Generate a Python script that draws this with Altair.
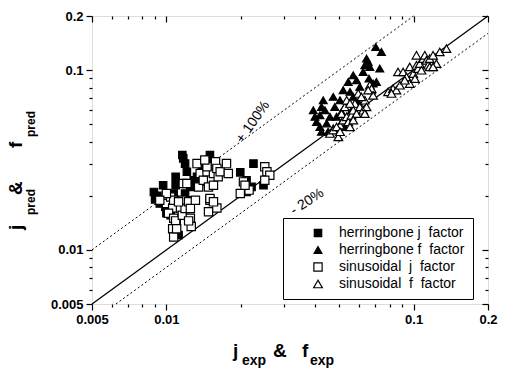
import altair as alt
import pandas as pd

# ---------------- data ----------------
hj_x = [0.0089, 0.0090, 0.0097, 0.0092, 0.0094, 0.0099, 0.0100, 0.0104, 0.0109, 0.0109,
        0.0110, 0.0112, 0.0117, 0.0119, 0.0121, 0.0119, 0.0121, 0.0125, 0.0129, 0.0133,
        0.0137, 0.0139, 0.0143, 0.0150, 0.0148, 0.0199, 0.0225, 0.0211, 0.0211, 0.0247,
        0.0221, 0.0107, 0.0102, 0.0116]
hj_y = [0.0210, 0.0191, 0.0229, 0.0200, 0.0181, 0.0174, 0.0160, 0.0156, 0.0255, 0.0229,
        0.0143, 0.0121, 0.0323, 0.0302, 0.0272, 0.0206, 0.0189, 0.0224, 0.0244, 0.0255,
        0.0239, 0.0290, 0.0302, 0.0337, 0.0316, 0.0270, 0.0302, 0.0210, 0.0244, 0.0229,
        0.0224, 0.0206, 0.0189, 0.0337]

hf_x = [0.0393, 0.0399, 0.0405, 0.0418, 0.0424, 0.0431, 0.0438, 0.0418, 0.0424, 0.0445,
        0.0459, 0.0473, 0.0480, 0.0488, 0.0504, 0.0511, 0.0519, 0.0536, 0.0544, 0.0553,
        0.0561, 0.0570, 0.0588, 0.0606, 0.0625, 0.0635, 0.0645, 0.0655, 0.0660, 0.0665,
        0.0676, 0.0686, 0.0703, 0.0730, 0.0741, 0.0707, 0.0473, 0.0451, 0.0527, 0.0570,
        0.0597]
hf_y = [0.0598, 0.0550, 0.0515, 0.0561, 0.0624, 0.0680, 0.0598, 0.0483, 0.0454, 0.0505,
        0.0550, 0.0710, 0.0624, 0.0550, 0.0680, 0.0586, 0.0773, 0.0652, 0.0860, 0.0757,
        0.0598, 0.0936, 0.0878, 0.0807, 0.0977, 0.1064, 0.1159, 0.1110, 0.0897, 0.1042,
        0.0773, 0.0842, 0.1345, 0.1020, 0.1262, 0.0860, 0.0474, 0.0454, 0.0483, 0.0710,
        0.0666]

sj_x = [0.0097, 0.0100, 0.0104, 0.0106, 0.0102, 0.0107, 0.0109, 0.0106, 0.0107, 0.0110,
        0.0114, 0.0116, 0.0116, 0.0119, 0.0123, 0.0125, 0.0125, 0.0126, 0.0131, 0.0133,
        0.0135, 0.0137, 0.0141, 0.0146, 0.0148, 0.0150, 0.0155, 0.0155, 0.0158, 0.0160,
        0.0162, 0.0165, 0.0178, 0.0175, 0.0148, 0.0160, 0.0150, 0.0155, 0.0123, 0.0107,
        0.0100, 0.0094, 0.0112, 0.0117, 0.0121, 0.0199, 0.0205, 0.0216, 0.0250, 0.0255,
        0.0262, 0.0250, 0.0208, 0.0146, 0.0143]
sj_y = [0.0189, 0.0181, 0.0197, 0.0171, 0.0160, 0.0150, 0.0145, 0.0131, 0.0118, 0.0131,
        0.0171, 0.0189, 0.0156, 0.0170, 0.0185, 0.0170, 0.0150, 0.0135, 0.0189, 0.0302,
        0.0224, 0.0266, 0.0244, 0.0272, 0.0224, 0.0189, 0.0229, 0.0266, 0.0309, 0.0284,
        0.0255, 0.0272, 0.0266, 0.0302, 0.0163, 0.0171, 0.0193, 0.0185, 0.0145, 0.0189,
        0.0206, 0.0189, 0.0185, 0.0234, 0.0234, 0.0206, 0.0239, 0.0215, 0.0290, 0.0272,
        0.0260, 0.0244, 0.0229, 0.0290, 0.0316]

sf_x = [0.0459, 0.0473, 0.0496, 0.0504, 0.0519, 0.0488, 0.0511, 0.0536, 0.0527, 0.0544,
        0.0553, 0.0561, 0.0570, 0.0579, 0.0588, 0.0606, 0.0625, 0.0635, 0.0645, 0.0536,
        0.0553, 0.0597, 0.0615, 0.0665, 0.0676, 0.0686, 0.0655, 0.0635, 0.0504, 0.0570,
        0.0789, 0.0826, 0.0852, 0.0880, 0.0865, 0.0907, 0.0936, 0.0965, 0.0997, 0.1027,
        0.1043, 0.1059, 0.1093, 0.1110, 0.1127, 0.1145, 0.1162, 0.1199, 0.1237, 0.1276,
        0.1358, 0.0965, 0.0921, 0.0814, 0.1013, 0.1076, 0.1162, 0.1027, 0.1199]
sf_y = [0.0444, 0.0464, 0.0425, 0.0494, 0.0527, 0.0483, 0.0573, 0.0550, 0.0624, 0.0515,
        0.0483, 0.0561, 0.0598, 0.0652, 0.0573, 0.0624, 0.0598, 0.0680, 0.0624, 0.0680,
        0.0652, 0.0741, 0.0710, 0.0824, 0.0789, 0.0724, 0.0773, 0.0573, 0.0454, 0.0527,
        0.0757, 0.0789, 0.0773, 0.0824, 0.0977, 0.0977, 0.0915, 0.1042, 0.0955, 0.1064,
        0.1020, 0.1087, 0.1159, 0.1209, 0.1133, 0.1064, 0.1159, 0.1209, 0.1087, 0.1262,
        0.1317, 0.0842, 0.0878, 0.0741, 0.0897, 0.0998, 0.1042, 0.1209, 0.1042]

series_names = ["herringbone j\u00a0 factor", "herringbone f\u00a0 factor",
                "sinusoidal\u00a0 j\u00a0 factor", "sinusoidal\u00a0 f\u00a0 factor"]
series_shapes = ["square", "triangle-up", "square", "triangle-up"]
series_fills = ["black", "black", "white", "white"]
series_strokes = ["black", "black", "black", "black"]
series_sizes = [55, 75, 55, 75]

# reference lines: y = x, y = 2x (+100%), y = 0.8x (-20%)
line_ids = ["diag", "diag", "p100", "p100", "m20", "m20"]
line_x = [0.005, 0.2, 0.005, 0.1, 0.00625, 0.2]
line_y = [0.005, 0.2, 0.01, 0.2, 0.005, 0.16]

ann_text = ["+ 100%", "- 20%"]
ann_x = [0.0224, 0.0371]
ann_y = [0.0514, 0.0185]
ann_angle = [305, 327]

tick_vals = [0.005, 0.006, 0.007, 0.008, 0.009, 0.01, 0.02, 0.03, 0.04, 0.05,
             0.06, 0.07, 0.08, 0.09, 0.1, 0.2]
domain = [0.005, 0.2]

# ---------------- build tables ----------------
rows = []
for name, xs, ys in zip(series_names, [hj_x, hf_x, sj_x, sf_x], [hj_y, hf_y, sj_y, sf_y]):
    for a, b in zip(xs, ys):
        rows.append({"series": name, "xv": a, "yv": b})
pts = pd.DataFrame(rows)
lines = pd.DataFrame({"id": line_ids, "xv": line_x, "yv": line_y})

FONT = "Liberation Sans"
major = "datum.value == 0.005 || datum.value == 0.01 || datum.value == 0.1 || datum.value == 0.2"
label_expr = ("datum.value == 0.005 ? '0.005' : datum.value == 0.01 ? '0.01' : "
              "datum.value == 0.1 ? '0.1' : datum.value == 0.2 ? '0.2' : ''")


def main_axis(orient):
    return alt.Axis(orient=orient, values=tick_vals, labelExpr=label_expr,
                    tickSize={"condition": {"test": major, "value": 6}, "value": 3},
                    tickColor="black", tickWidth=1.2, domain=False, grid=False,
                    labelFont=FONT, labelFontWeight="bold", labelFontSize=13,
                    labelColor="black", labelPadding=3, title=None,
                    labelFlush=False, labelOverlap=False)


def mirror_axis(orient, offset):
    return alt.Axis(orient=orient, offset=offset, values=tick_vals, labels=False,
                    tickSize={"condition": {"test": major, "value": 6}, "value": 3},
                    tickColor="black", tickWidth=1.2, domain=False, grid=False,
                    title=None)


xs = alt.Scale(type="log", domain=domain, nice=False)
ys = alt.Scale(type="log", domain=domain, nice=False)

leg = alt.Legend(orient="none", legendX=191, legendY=202, title=None, padding=8,
                 strokeColor="black", fillColor="white",
                 labelFont=FONT, labelFontSize=14, labelColor="black",
                 symbolOffset=20, labelOffset=14, rowPadding=3,
                 symbolStrokeWidth=1.2)

points = alt.Chart(pts).mark_point(strokeWidth=1.2, opacity=1).encode(
    x=alt.X("xv:Q", scale=xs, axis=main_axis("bottom")),
    y=alt.Y("yv:Q", scale=ys, axis=main_axis("left")),
    shape=alt.Shape("series:N", scale=alt.Scale(domain=series_names, range=series_shapes), legend=leg),
    fill=alt.Fill("series:N", scale=alt.Scale(domain=series_names, range=series_fills), legend=leg),
    stroke=alt.Stroke("series:N", scale=alt.Scale(domain=series_names, range=series_strokes), legend=leg),
    size=alt.Size("series:N", scale=alt.Scale(domain=series_names, range=series_sizes), legend=leg),
)

diag = alt.Chart(lines).transform_filter("datum.id == 'diag'").mark_line(
    color="black", strokeWidth=1.3).encode(
    x=alt.X("xv:Q", scale=xs), y=alt.Y("yv:Q", scale=ys))

dotted = alt.Chart(lines).transform_filter("datum.id != 'diag'").mark_line(
    color="black", strokeWidth=1, strokeDash=[2, 2.5]).encode(
    x=alt.X("xv:Q", scale=xs), y=alt.Y("yv:Q", scale=ys), detail="id:N")

ann_layers = []
for t, ax, ay, ang in zip(ann_text, ann_x, ann_y, ann_angle):
    d = pd.DataFrame({"t": [t], "xv": [ax], "yv": [ay]})
    ann_layers.append(alt.Chart(d).mark_text(font=FONT, fontSize=14, angle=ang,
                                             align="center", baseline="middle", color="black").encode(
        x=alt.X("xv:Q", scale=xs), y=alt.Y("yv:Q", scale=ys), text="t:N"))

# axis title pieces (text, size, x px, y px, angle) relative to plot area
title_pieces = [
    ("j", 19, 141, 341, 0), ("exp", 14, 150, 349, 0), ("&", 19, 181, 341, 0),
    ("f", 19, 210, 341, 0), ("exp", 14, 218, 349, 0),
    ("j", 19, -70, 214, 270), ("pred", 12, -57, 199, 270), ("&", 19, -70, 179, 270),
    ("f", 19, -70, 132, 270), ("pred", 12, -57, 121, 270),
]
title_layers = []
for t, fs, px, py, ang in title_pieces:
    d = pd.DataFrame({"t": [t]})
    title_layers.append(alt.Chart(d).mark_text(font=FONT, fontSize=fs, fontWeight="bold",
                                               angle=ang, align="left", baseline="alphabetic",
                                               color="black").encode(
        x=alt.value(px), y=alt.value(py), text="t:N"))

inner = alt.layer(dotted, diag, points, *ann_layers, *title_layers)

mirror_df = pd.DataFrame({"xv": domain, "yv": domain})
mirror = alt.Chart(mirror_df).mark_point(opacity=0).encode(
    x=alt.X("xv:Q", scale=alt.Scale(type="log", domain=domain, nice=False),
            axis=mirror_axis("bottom", -288)),
    y=alt.Y("yv:Q", scale=alt.Scale(type="log", domain=domain, nice=False),
            axis=mirror_axis("left", -396)),
)

chart = alt.layer(inner, mirror).resolve_scale(x="independent", y="independent").properties(
    width=396, height=288,
    padding={"left": 92, "top": 16, "right": 18, "bottom": 66},
    autosize=alt.AutoSizeParams(type="none"),
).configure_view(stroke="black", strokeWidth=1.4).configure(background="white")

chart.save("out.html", embed_options={"renderer": "svg", "actions": False})
